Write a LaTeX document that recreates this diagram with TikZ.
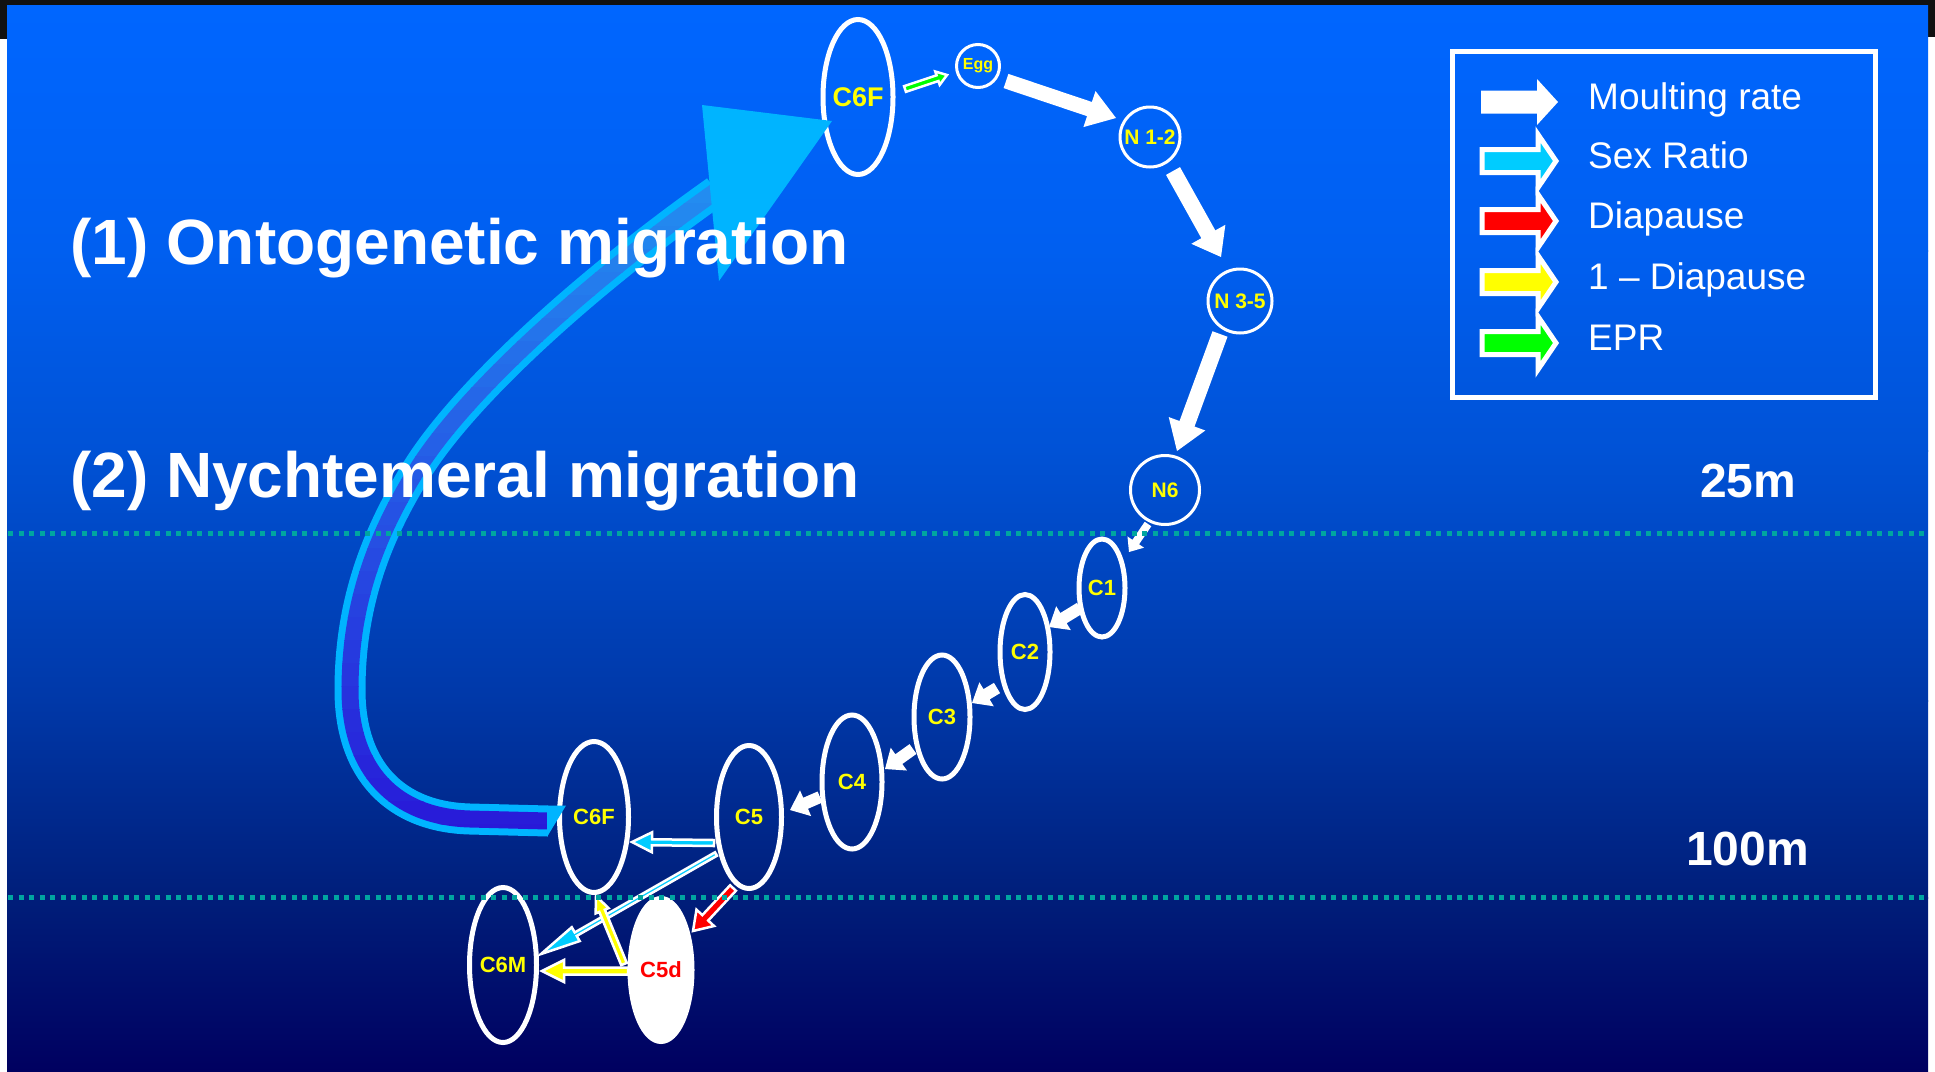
\documentclass[tikz,border=0pt]{standalone}
\usepackage{fontspec}
\setmainfont{Liberation Sans}
\usetikzlibrary{calc,shapes.geometric}

\definecolor{bg0}{RGB}{0,102,255}
\definecolor{bg1}{RGB}{0,95,240}
\definecolor{bg2}{RGB}{0,82,214}
\definecolor{bg3}{RGB}{0,56,168}
\definecolor{bg4}{RGB}{0,30,122}
\definecolor{bg5}{RGB}{0,0,96}
\definecolor{edgeblack}{RGB}{17,17,17}
\definecolor{labyellow}{RGB}{255,255,0}
\definecolor{dotteal}{RGB}{0,165,160}
\definecolor{migcyan}{RGB}{0,180,255}
\definecolor{migtop}{RGB}{35,140,240}
\definecolor{migbot}{RGB}{40,20,215}
\definecolor{sexcyan}{RGB}{0,204,255}
\definecolor{diared}{RGB}{255,0,0}
\definecolor{diayellow}{RGB}{255,255,0}
\definecolor{eprgreen}{RGB}{0,255,0}

% block arrow: [style]{start}{end}{shaft width}{head width}{head length}
\newcommand\blkarrow[6][]{%
  \path[#1] let \p1=(#2), \p2=(#3),
     \n1={atan2(\y2-\y1,\x2-\x1)}, \n2={veclen(\x2-\x1,\y2-\y1)} in
     ($(\p1)+({\n1+90}:{#4/2})$) -- ++({\n1}:{\n2-#6}) -- ++({\n1+90}:{(#5-#4)/2}) -- (\p2)
     -- ($(\p1)+({\n1}:{\n2-#6})+({\n1-90}:{#5/2})$) -- ++({\n1+90}:{(#5-#4)/2})
     -- ($(\p1)+({\n1-90}:{#4/2})$) -- cycle;}

\newcommand\migpath{(548,-821) -- (470,-819) .. controls (395,-817) and (350,-770) .. (350,-690)
  .. controls (350,-610) and (372,-540) .. (420,-465) .. controls (470,-388) and (590,-280) .. (716,-191)}

\tikzset{
  stagebox/.style={ellipse, draw=white, line width=5pt, inner sep=0pt, text=labyellow,
    font=\fontsize{22}{24}\selectfont\bfseries},
  naup/.style={circle, draw=white, line width=3pt, inner sep=0pt, text=labyellow,
    font=\fontsize{21}{23}\selectfont\bfseries},
  colarr/.style={fill=#1, draw=white, line width=2.5pt, line join=miter},
  legarr/.style={fill=#1, draw=white, line width=5pt, line join=miter},
  depthline/.style={draw=dotteal, line width=5pt, dash pattern=on 5pt off 5.5pt},
  titletext/.style={text=white, anchor=base west, inner sep=0pt,
    font=\fontsize{64}{70}\selectfont\bfseries},
  depthlabel/.style={text=white, anchor=base west, inner sep=0pt,
    font=\fontsize{48}{52}\selectfont\bfseries},
  legtext/.style={text=white, anchor=base west, inner sep=0pt,
    font=\fontsize{37}{40}\selectfont},
}

\begin{document}
\begin{tikzpicture}[x=1pt,y=1pt]
\useasboundingbox (0,0) rectangle (1935,-1071);
% frame
\fill[white] (0,0) rectangle (1935,-1071);
\fill[edgeblack] (0,0) rectangle (1935,-5);
\fill[edgeblack] (0,0) rectangle (7,-39);
\fill[edgeblack] (1928,0) rectangle (1935,-37);
% background panel
\shade[top color=bg0, bottom color=bg1] (7,-5) rectangle (1928,-251);
\shade[top color=bg1, bottom color=bg2] (7,-250) rectangle (1928,-451);
\shade[top color=bg2, bottom color=bg3] (7,-450) rectangle (1928,-701);
\shade[top color=bg3, bottom color=bg4] (7,-700) rectangle (1928,-898);
\shade[top color=bg4, bottom color=bg5] (7,-897) rectangle (1928,-1071);

% stages
\node[stagebox, minimum width=70pt, minimum height=155pt,
  label={[text=labyellow, font=\fontsize{27}{29}\selectfont\bfseries, inner sep=0pt]center:C6F}] (c6ftop) at (858,-97) {};
\node[naup, minimum size=43pt, font=\fontsize{16}{18}\selectfont\bfseries] (egg) at (978,-66) {Egg};
\node[naup, minimum size=60pt] (n12) at (1150,-137) {N 1-2};
\node[naup, minimum size=64pt] (n35) at (1240,-301) {N 3-5};
\node[naup, minimum size=69pt] (n6) at (1165,-490) {N6};
\node[stagebox, minimum width=46pt, minimum height=98pt] (c1) at (1102,-588) {C1};
\node[stagebox, minimum width=50pt, minimum height=115pt] (c2) at (1025,-652) {C2};
\node[stagebox, minimum width=56pt, minimum height=124pt] (c3) at (942,-717) {C3};
\node[stagebox, minimum width=60pt, minimum height=134pt] (c4) at (852,-782) {C4};
\node[stagebox, minimum width=65pt, minimum height=143pt] (c5) at (749,-817) {C5};
\node[stagebox, minimum width=69pt, minimum height=151pt] (c6f) at (594,-817) {C6F};
\node[stagebox, minimum width=67pt, minimum height=155pt] (c6m) at (503,-965) {C6M};
\node[stagebox, fill=white, text=diared, minimum width=62pt, minimum height=143pt] (c5d) at (661,-970) {C5d};

% ontogenetic migration arrow
\draw[migcyan, line width=31pt] \migpath;
\foreach \i in {0,...,29}{
  \pgfmathsetmacro\ya{180+\i*23}
  \pgfmathsetmacro\yb{\ya+23.5}
  \pgfmathtruncatemacro\pc{100*\i/29}
  \begin{scope}
    \clip (0,-\ya) rectangle (1935,-\yb);
    \draw[draw=migbot!\pc!migtop, line width=17pt] \migpath;
  \end{scope}
}
\fill[migcyan] (547,-805.5) -- (566,-805.5) -- (547,-837) -- cycle;
\fill[migcyan] (702,-105) -- (832,-121) -- (719,-281) -- cycle;

% moulting arrows
\blkarrow[fill=white]{$(egg)+(28,-15)$}{$(n12)+(-34,19)$}{15}{38}{28}
\blkarrow[fill=white]{$(n12)+(23,-34)$}{$(n35)+(-19,44)$}{16}{39}{26}
\blkarrow[fill=white]{$(n35)+(-20,-33)$}{$(n6)+(12,39)$}{16}{39}{29}
\blkarrow[fill=white]{$(n6)+(-17,-34)$}{$(c1)+(27,36)$}{8}{20}{12}
\blkarrow[fill=white]{$(c1)+(-22,-20)$}{$(c2)+(24,25)$}{12}{28}{17}
\blkarrow[fill=white]{$(c2)+(-28,-36)$}{$(c3)+(30,14)$}{12}{28}{17}
\blkarrow[fill=white]{$(c3)+(-29,-32)$}{$(c4)+(33,13)$}{12}{28}{17}
\blkarrow[fill=white]{$(c4)+(-32,-15)$}{$(c5)+(41,7)$}{12}{28}{17}
% other rates
\blkarrow[colarr=eprgreen]{$(c6ftop)+(47,8)$}{$(egg)+(-31,-9)$}{6}{14}{10}
\blkarrow[colarr=sexcyan]{$(c5)+(-35,-26)$}{$(c6f)+(38,-25)$}{6}{20}{20}
\blkarrow[colarr=sexcyan]{$(c5)+(-33,-37)$}{$(c6m)+(38,11)$}{4}{16}{40}
\blkarrow[colarr=diared]{$(c5)+(-16,-71)$}{$(c5d)+(32,39)$}{8}{24}{18}
\blkarrow[colarr=diayellow]{$(c5d)+(-33,-1)$}{$(c6m)+(39,-6)$}{7}{22}{22}
\blkarrow[colarr=diayellow]{$(c5d)+(-37,6)$}{$(c6f)+(2,-79)$}{6}{14}{16}

% depth lines
\coordinate (l25a) at (8,-533);
\coordinate (l25b) at (1928,-533);
\coordinate (l100a) at (8,-897);
\coordinate (l100b) at (1928,-897);
\draw[depthline] (l25a) -- (l25b);
\draw[depthline] (l100a) -- (l100b);

% texts
\node[titletext] (t1) at (70,-264) {(1) Ontogenetic migration};
\node[titletext] (t2) at (70,-497) {(2) Nychtemeral migration};
\node[depthlabel] (d25) at (1700,-497) {25m};
\node[depthlabel] (d100) at (1686,-865) {100m};

% legend
\draw[white, line width=5pt] (1452,-51) rectangle (1875,-397);
\blkarrow[fill=white]{1481,-102}{1558,-102}{23}{46}{21}
\blkarrow[legarr=sexcyan]{1482,-161}{1556,-161}{23}{53}{18}
\blkarrow[legarr=diared]{1482,-221}{1556,-221}{23}{53}{18}
\blkarrow[legarr=diayellow]{1482,-282}{1556,-282}{23}{53}{18}
\blkarrow[legarr=eprgreen]{1482,-343}{1556,-343}{23}{53}{18}
\node[legtext] (lg1) at (1588,-109) {Moulting rate};
\node[legtext] (lg2) at (1588,-168) {Sex Ratio};
\node[legtext] (lg3) at (1588,-228) {Diapause};
\node[legtext] (lg4) at (1588,-289) {1 – Diapause};
\node[legtext] (lg5) at (1588,-350) {EPR};
\end{tikzpicture}
\end{document}
